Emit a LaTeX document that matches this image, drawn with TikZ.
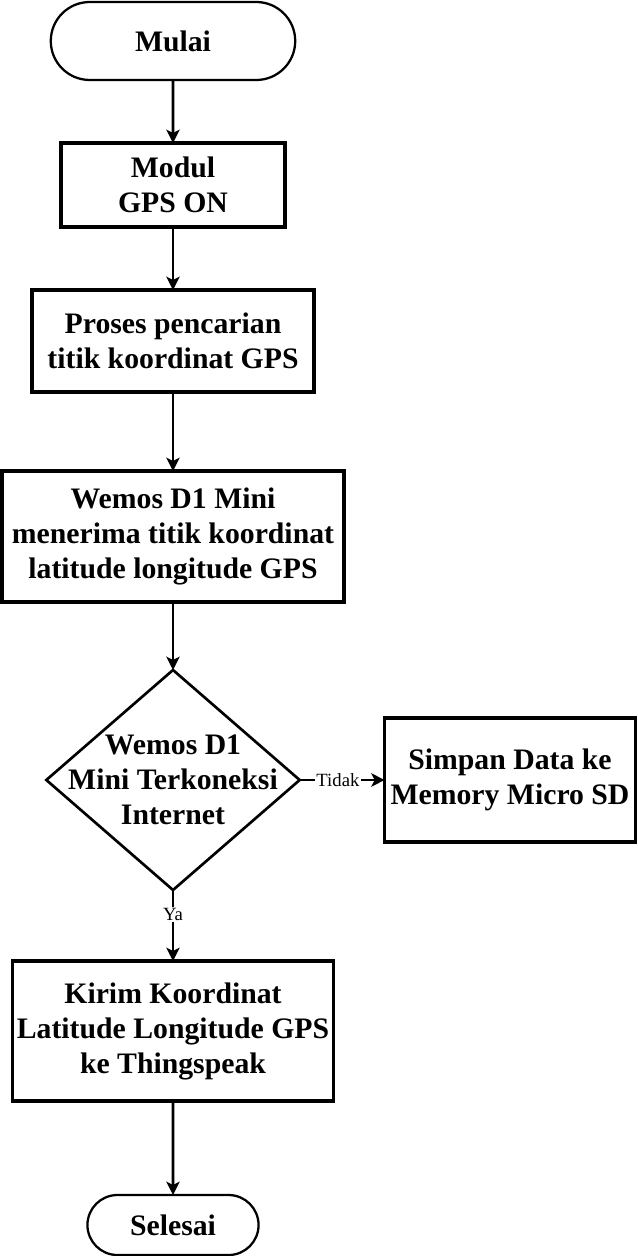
\documentclass[tikz,border=0pt]{standalone}
\usepackage{fontspec}
\setmainfont{Liberation Serif}
\usetikzlibrary{positioning,shapes.geometric,shapes.misc,arrows.meta}
\tikzset{
  txt/.style={font=\bfseries\fontsize{22.3}{26.25}\selectfont, align=center},
  term/.style={rounded rectangle, draw=black, line width=1.7pt, outer sep=0pt, txt},
  op/.style={rectangle, draw=black, line width=2.3pt, outer sep=0pt, txt},
  cn/.style={diamond, draw=black, line width=2pt, outer sep=0pt, minimum width=190pt, minimum height=165pt, inner sep=0pt},
  arr/.style={line width=2.1pt, -{Stealth[length=10pt,width=10pt,inset=2.5pt]}},
  lbl/.style={font=\fontsize{14}{16}\selectfont, fill=white, inner sep=1pt}
}
\begin{document}
\begin{tikzpicture}
	\useasboundingbox (0,0) rectangle (478.5pt,-942pt);
	\node[term, minimum width=190pt, minimum height=58.5pt] (mulai) at (129.75pt,-30.75pt) {Mulai};
	\node[op, minimum width=168pt, minimum height=63pt, below=47.25pt of mulai] (modul) {Modul\\GPS ON};
	\node[op, minimum width=211.5pt, minimum height=76.5pt, below=47.25pt of modul] (proses) {Proses pencarian\\titik koordinat GPS};
	\node[op, minimum width=256.5pt, minimum height=98.25pt, below=59.25pt of proses] (wemos) {Wemos D1 Mini\\menerima titik koordinat\\latitude longitude GPS};
	\node[cn, below=51pt of wemos, label={[txt]center:Wemos D1\\Mini Terkoneksi\\Internet}] (cek) {};
	\node[op, minimum width=188pt, minimum height=93pt, right=63.75pt of cek] (simpan) {Simpan Data ke\\Memory Micro SD};
	\node[op, minimum width=225.75pt, minimum height=105pt, below=53.25pt of cek] (kirim) {Kirim Koordinat\\Latitude Longitude GPS\\ke Thingspeak};
	\node[term, minimum width=135pt, minimum height=45pt, below=70.5pt of kirim] (selesai) {Selesai};
	%
	\draw[arr] (mulai) -- (modul);
	\draw[arr] (modul) -- (proses);
	\draw[arr] (proses) -- (wemos);
	\draw[arr] (wemos) -- (cek);
	\draw[arr] (cek) -- node[lbl, pos=0.45] {Tidak} (simpan);
	\draw[arr] (cek) -- node[lbl, pos=0.35] {Ya} (kirim);
	\draw[arr] (kirim) -- (selesai);
\end{tikzpicture}
\end{document}
